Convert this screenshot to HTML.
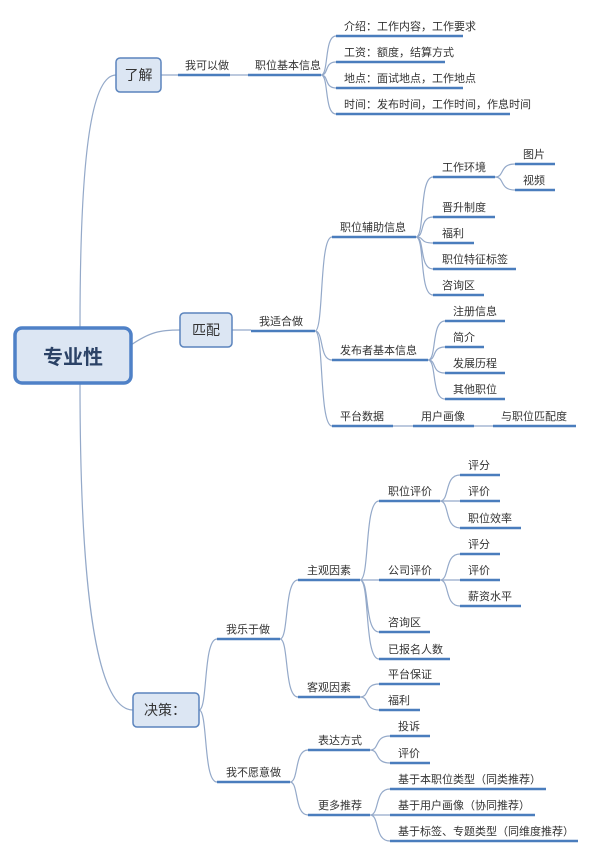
<!DOCTYPE html>
<html><head><meta charset="utf-8"><style>
html,body{margin:0;padding:0;background:#fff;}
svg{display:block;}
text{font-family:"Liberation Sans","Noto Sans CJK SC",sans-serif;fill:#333;font-size:11px;}
.c{fill:none;stroke:#94a9c9;stroke-width:1.2;}
.u{stroke:#4a7dbd;stroke-width:2.6;stroke-linecap:butt;}
</style></head><body>
<svg width="600" height="854" viewBox="0 0 600 854" xmlns="http://www.w3.org/2000/svg">
<!-- trunk connectors -->
<path class="c" d="M80 327 C80 150,92 75,116 75"/>
<path class="c" d="M131 345 C150 332,160 330,180 330"/>
<path class="c" d="M80 383 C80 600,98 710,133 710"/>
<!-- 了解 -->
<path class="c" d="M161 75 L178 75 M230 75 L248 75"/>
<path class="c" d="M321 75 C329 75,324 36,336 36 M321 75 C329 75,324 62,336 62 M321 75 C329 75,324 88,336 88 M321 75 C329 75,324 114,336 114"/>
<!-- 匹配 -->
<path class="c" d="M232 330 L251 330"/>
<path class="c" d="M315 331 C324 331,319 237,332 237 M315 331 C324 331,319 360,332 360 M315 331 C324 331,319 426,332 426"/>
<path class="c" d="M416 237 C425 237,419 177,433 177 M416 237 C425 237,419 217,433 217 M416 237 C425 237,419 243,433 243 M416 237 C425 237,419 269,433 269 M416 237 C425 237,419 295,433 295"/>
<path class="c" d="M495 177 C505 177,499 164,515 164 M495 177 C505 177,499 190,515 190"/>
<path class="c" d="M428 360 C437 360,431 321,445 321 M428 360 C437 360,431 347,445 347 M428 360 C437 360,431 373,445 373 M428 360 C437 360,431 399,445 399"/>
<path class="c" d="M393 426 L413 426 M474 426 L493 426"/>
<!-- 决策 -->
<path class="c" d="M199 710 C208 710,203 639,217 639 M199 710 C208 710,203 782,217 782"/>
<path class="c" d="M280 639 C289 639,284 580,298 580 M280 639 C289 639,284 697,298 697"/>
<path class="c" d="M360 580 C370 580,364 501,379 501 M360 580 L379 580 M360 580 C370 580,364 632,379 632 M360 580 C370 580,364 659,379 659"/>
<path class="c" d="M440 501 C450 501,444 475,460 475 M440 501 L460 501 M440 501 C450 501,444 528,460 528"/>
<path class="c" d="M440 580 C450 580,444 554,460 554 M440 580 L460 580 M440 580 C450 580,444 606,460 606"/>
<path class="c" d="M360 697 C370 697,364 684,379 684 M360 697 C370 697,364 710,379 710"/>
<path class="c" d="M290 782 C299 782,294 750,308 750 M290 782 C299 782,294 815,308 815"/>
<path class="c" d="M370 750 C380 750,374 736,390 736 M370 750 C380 750,374 763,390 763"/>
<path class="c" d="M370 815 C380 815,374 789,390 789 M370 815 L390 815 M370 815 C380 815,374 841,390 841"/>

<!-- underlines -->
<g class="u">
<line x1="178" y1="75" x2="230" y2="75"/><line x1="248" y1="75" x2="321" y2="75"/>
<line x1="336" y1="36" x2="463" y2="36"/><line x1="336" y1="62" x2="445" y2="62"/>
<line x1="336" y1="88" x2="463" y2="88"/><line x1="336" y1="114" x2="510" y2="114"/>
<line x1="251" y1="331" x2="315" y2="331"/>
<line x1="332" y1="237" x2="416" y2="237"/><line x1="332" y1="360" x2="428" y2="360"/><line x1="332" y1="426" x2="393" y2="426"/>
<line x1="413" y1="426" x2="474" y2="426"/><line x1="493" y1="426" x2="576" y2="426"/>
<line x1="433" y1="177" x2="495" y2="177"/><line x1="515" y1="164" x2="555" y2="164"/><line x1="515" y1="190" x2="555" y2="190"/>
<line x1="433" y1="217" x2="495" y2="217"/><line x1="433" y1="243" x2="474" y2="243"/><line x1="433" y1="269" x2="516" y2="269"/><line x1="433" y1="295" x2="484" y2="295"/>
<line x1="445" y1="321" x2="505" y2="321"/><line x1="445" y1="347" x2="484" y2="347"/><line x1="445" y1="373" x2="505" y2="373"/><line x1="445" y1="399" x2="505" y2="399"/>
<line x1="217" y1="639" x2="280" y2="639"/><line x1="217" y1="782" x2="290" y2="782"/>
<line x1="298" y1="580" x2="360" y2="580"/><line x1="298" y1="697" x2="360" y2="697"/>
<line x1="379" y1="501" x2="440" y2="501"/><line x1="379" y1="580" x2="440" y2="580"/><line x1="379" y1="632" x2="430" y2="632"/><line x1="379" y1="659" x2="450" y2="659"/>
<line x1="460" y1="475" x2="500" y2="475"/><line x1="460" y1="501" x2="500" y2="501"/><line x1="460" y1="528" x2="521" y2="528"/>
<line x1="460" y1="554" x2="500" y2="554"/><line x1="460" y1="580" x2="500" y2="580"/><line x1="460" y1="606" x2="521" y2="606"/>
<line x1="379" y1="684" x2="440" y2="684"/><line x1="379" y1="710" x2="420" y2="710"/>
<line x1="308" y1="750" x2="370" y2="750"/><line x1="308" y1="815" x2="370" y2="815"/>
<line x1="390" y1="736" x2="430" y2="736"/><line x1="390" y1="763" x2="430" y2="763"/>
<line x1="390" y1="789" x2="546" y2="789"/><line x1="390" y1="815" x2="535" y2="815"/><line x1="390" y1="841" x2="578" y2="841"/>
</g>

<!-- boxes -->
<rect x="15" y="328" width="116" height="55" rx="7" fill="#dce6f3" stroke="#4f81c7" stroke-width="3.5"/>
<text x="73" y="364" text-anchor="middle" style="font-size:20px;font-weight:bold;fill:#2b4266">专业性</text>
<rect x="116" y="58" width="45" height="34" rx="4" fill="#dce6f3" stroke="#5b84bd" stroke-width="1.5"/>
<text x="138.5" y="80" text-anchor="middle" style="font-size:14px">了解</text>
<rect x="180" y="313" width="52" height="34" rx="4" fill="#dce6f3" stroke="#5b84bd" stroke-width="1.5"/>
<text x="206" y="335" text-anchor="middle" style="font-size:14px">匹配</text>
<rect x="133" y="693" width="66" height="34" rx="4" fill="#dce6f3" stroke="#5b84bd" stroke-width="1.5"/>
<text x="144" y="715" style="font-size:14px">决策：</text>

<!-- labels -->
<text x="185" y="69">我可以做</text>
<text x="255" y="69">职位基本信息</text>
<text x="344" y="30">介绍：工作内容，工作要求</text>
<text x="344" y="56">工资：额度，结算方式</text>
<text x="344" y="82">地点：面试地点，工作地点</text>
<text x="344" y="108">时间：发布时间，工作时间，作息时间</text>

<text x="259" y="325">我适合做</text>
<text x="340" y="231">职位辅助信息</text>
<text x="340" y="354">发布者基本信息</text>
<text x="340" y="420">平台数据</text>
<text x="421" y="420">用户画像</text>
<text x="501" y="420">与职位匹配度</text>
<text x="442" y="171">工作环境</text>
<text x="523" y="158">图片</text>
<text x="523" y="184">视频</text>
<text x="442" y="211">晋升制度</text>
<text x="442" y="237">福利</text>
<text x="442" y="263">职位特征标签</text>
<text x="442" y="289">咨询区</text>
<text x="453" y="315">注册信息</text>
<text x="453" y="341">简介</text>
<text x="453" y="367">发展历程</text>
<text x="453" y="393">其他职位</text>

<text x="226" y="633">我乐于做</text>
<text x="226" y="776">我不愿意做</text>
<text x="307" y="574">主观因素</text>
<text x="307" y="691">客观因素</text>
<text x="388" y="495">职位评价</text>
<text x="388" y="574">公司评价</text>
<text x="388" y="626">咨询区</text>
<text x="388" y="653">已报名人数</text>
<text x="468" y="469">评分</text>
<text x="468" y="495">评价</text>
<text x="468" y="522">职位效率</text>
<text x="468" y="548">评分</text>
<text x="468" y="574">评价</text>
<text x="468" y="600">薪资水平</text>
<text x="388" y="678">平台保证</text>
<text x="388" y="704">福利</text>
<text x="318" y="744">表达方式</text>
<text x="318" y="809">更多推荐</text>
<text x="398" y="730">投诉</text>
<text x="398" y="757">评价</text>
<text x="398" y="783">基于本职位类型（同类推荐）</text>
<text x="398" y="809">基于用户画像（协同推荐）</text>
<text x="398" y="835">基于标签、专题类型（同维度推荐）</text>
</svg>
</body></html>
